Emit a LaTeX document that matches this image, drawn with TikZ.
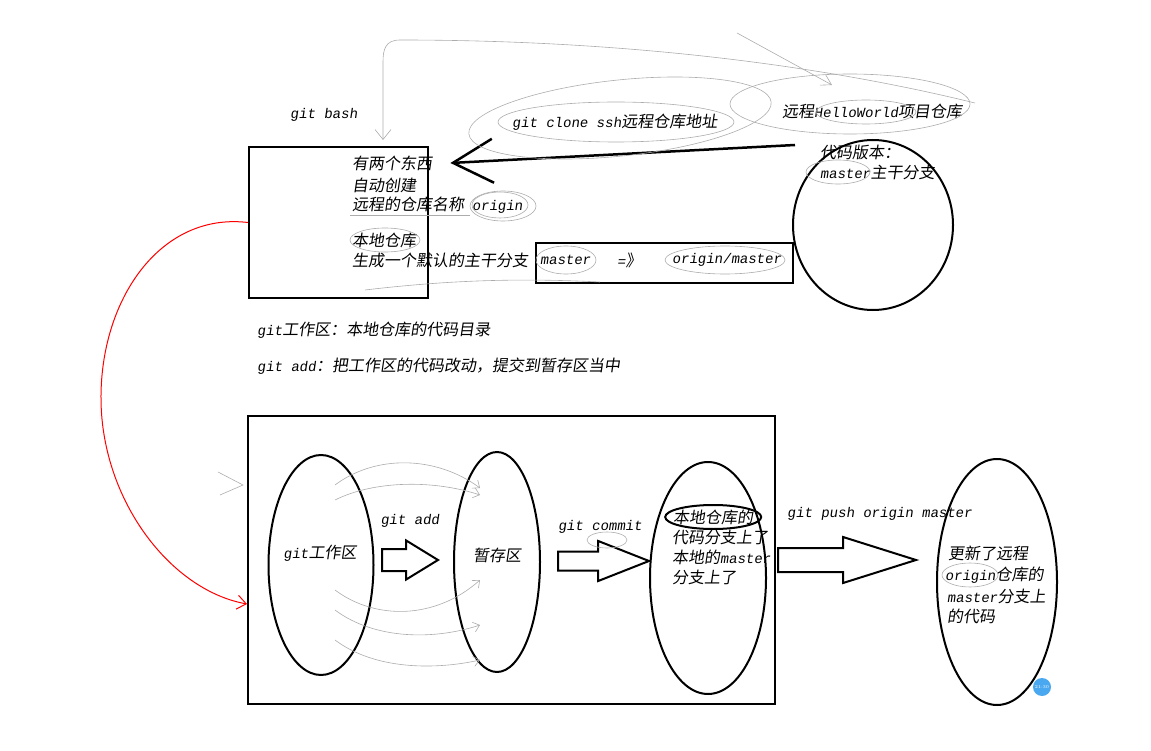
\documentclass[tikz,border=0pt]{standalone}
\usepackage{fontspec}
\usepackage{tikz}
\usetikzlibrary{shapes.geometric,shapes.arrows,arrows.meta}
\newfontfamily\cjk[FakeSlant=0.15]{Noto Sans CJK SC}
\newfontfamily\lat[FakeSlant=0.15]{Liberation Mono}
\newcommand\g[1]{{\lat\fontsize{14}{16}\selectfont #1}}
\definecolor{badge}{HTML}{4AA8F0}

\begin{document}
\begin{tikzpicture}[x=1pt,y=-1pt,
    txt/.style={font=\cjk\fontsize{16}{21}\selectfont, inner sep=0pt, anchor=west},
    blk/.style={draw, line width=2pt, anchor=north west},
    oval/.style={draw, ellipse, line width=2pt, inner sep=0pt},
    fat/.style={draw, line width=2pt, single arrow, inner sep=0pt, anchor=tail,
        single arrow head extend=#1},
    pen/.style={gray!65, line width=0.6pt}]
    \useasboundingbox (0,0) rectangle (1151,751);

    % upper part: git clone
    \node[blk, minimum width=179, minimum height=151] (bash) at (248,146) {};
    \node[blk, minimum width=257, minimum height=40] (pair) at (535,242) {};
    \node[oval, minimum width=160, minimum height=170] (remote) at (873,225) {};

    \node[txt] (bashlbl) at (290,115) {\g{git bash}};
    \node[txt] (clone) at (512,122) {\g{git clone ssh}远程仓库地址};
    \node[txt] (hello) at (782,111) {远程\g{HelloWorld}项目仓库};
    \node[txt] (ver) at (820,152) {代码版本：};
    \node[txt] (trunk) at (820,172) {\g{master}主干分支};

    \node[txt] (two) at (352,163) {有两个东西};
    \node[txt] (auto) at (352,185) {自动创建};
    \node[txt] (rname) at (352,205) {远程的仓库名称\hspace{8pt}\g{origin}};
    \node[txt] (local) at (352,240) {本地仓库};
    \node[txt] (gen) at (352,260) {生成一个默认的主干分支};
    \node[txt] (lmaster) at (540,260) {\g{master}};
    \node[txt] (maps) at (617,260) {\g{=}》};
    \node[txt] (omaster) at (672,260) {\g{origin/master}};

    \coordinate (from) at (795,145);
    \draw[line width=2.5pt, -{Straight Barb[length=40pt,width=44pt]}]
        (from) -- ([xshift=18pt]two.east);

    \node[txt] (wsdef) at (257,330) {\g{git}工作区：本地仓库的代码目录};
    \node[txt] (adddef) at (257,366) {\g{git add}：把工作区的代码改动，提交到暂存区当中};

    % lower part: add, commit, push
    \node[blk, minimum width=527, minimum height=288] (work) at (247,415) {};
    \node[oval, minimum width=105, minimum height=220] (ws) at (321,565) {};
    \node[oval, minimum width=86, minimum height=220] (stage) at (497,562) {};
    \node[oval, minimum width=116, minimum height=232] (repo) at (708,578) {};
    \node[oval, minimum width=120, minimum height=246] (origin) at (997,582) {};

    \node[fat=8.5, minimum height=56, single arrow tip angle=63]
        (add) at (381,560) {\rule{0pt}{20pt}};
    \node[fat=10.5, minimum height=91, single arrow tip angle=43]
        (commit) at (557,561) {\rule{0pt}{17pt}};
    \node[fat=11, minimum height=138, single arrow tip angle=35]
        (push) at (777,560) {\rule{0pt}{22pt}};

    \node[txt, anchor=center] (wslbl) at (320,553) {\g{git}工作区};
    \node[txt, anchor=center] (stlbl) at (497,555) {暂存区};
    \node[txt, anchor=center] (addlbl) at (410,521) {\g{git add}};
    \node[txt, anchor=center] (comlbl) at (600,527) {\g{git commit}};
    \node[txt] (pushlbl) at (787,514) {\g{git push origin master}};

    \node[txt] (r1) at (673,517) {本地仓库的};
    \node[txt] (r2) at (672,537) {代码分支上了};
    \node[txt] (r3) at (672,557) {本地的\g{master}};
    \node[txt] (r4) at (672,577) {分支上了};
    \draw[line width=2pt] (r1.center) ellipse [x radius=48, y radius=12];

    \node[txt] (o1) at (948,553) {更新了远程};
    \node[txt] (o2) at (945,575) {\g{origin}仓库的};
    \node[txt] (o3) at (947,596) {\g{master}分支上};
    \node[txt] (o4) at (947,616) {的代码};

    \node[circle, fill=badge, minimum size=18, inner sep=0pt, text=white,
        font=\fontsize{4.5}{5}\selectfont] (clock) at (1042,687) {21:30};

    % red link
    \draw[red, line width=1pt, -{Straight Barb[length=9pt,width=14pt]}]
        (bash.west) .. controls (160,212) and (100,300) .. (101,400)
        .. controls (102,500) and (170,590) .. ([yshift=-44pt]work.west);

    % pencil scribbles
    \draw[pen, -{Straight Barb[length=10pt,width=16pt]}]
        (975,103) .. controls (800,60) and (600,40) .. (400,40)
        .. controls (385,40) and (383,50) .. (383,62) -- (383,140);
    \draw[pen, -{Straight Barb[length=10pt,width=12pt]}] (737,33) -- (832,85);
    \draw[pen] (616,122) ellipse [x radius=118, y radius=20];
    \draw[pen, rotate around={6:(620,118)}] (620,118) ellipse [x radius=152, y radius=38];
    \draw[pen] (850,104) ellipse [x radius=120, y radius=30];
    \draw[pen] (866,112) ellipse [x radius=50, y radius=12];
    \draw[pen] (500,205) ellipse [x radius=28, y radius=13];
    \draw[pen] (503,206) ellipse [x radius=33, y radius=15];
    \draw[pen] (566,260) ellipse [x radius=30, y radius=14];
    \draw[pen] (725,260) ellipse [x radius=60, y radius=14];
    \draw[pen] (385,240) ellipse [x radius=35, y radius=12];
    \draw[pen] (838,172) ellipse [x radius=32, y radius=12];
    \draw[pen] (970,575) ellipse [x radius=28, y radius=12];
    \draw[pen] (607,540) ellipse [x radius=20, y radius=8];
    \draw[pen] (350,215) -- (470,215);
    \draw[pen] (365,290) .. controls (450,280) and (520,278) .. (600,282);
    \draw[pen] (218,472) -- (243,485) -- (220,495);
    \foreach \a/\b/\c in {485/455/488, 500/480/495, 590/620/580, 610/640/625, 640/670/660}
        \draw[pen, -{Straight Barb[length=6pt,width=10pt]}]
            (335,\a) .. controls (375,\b) and (435,\b) .. (480,\c);
\end{tikzpicture}
\end{document}
